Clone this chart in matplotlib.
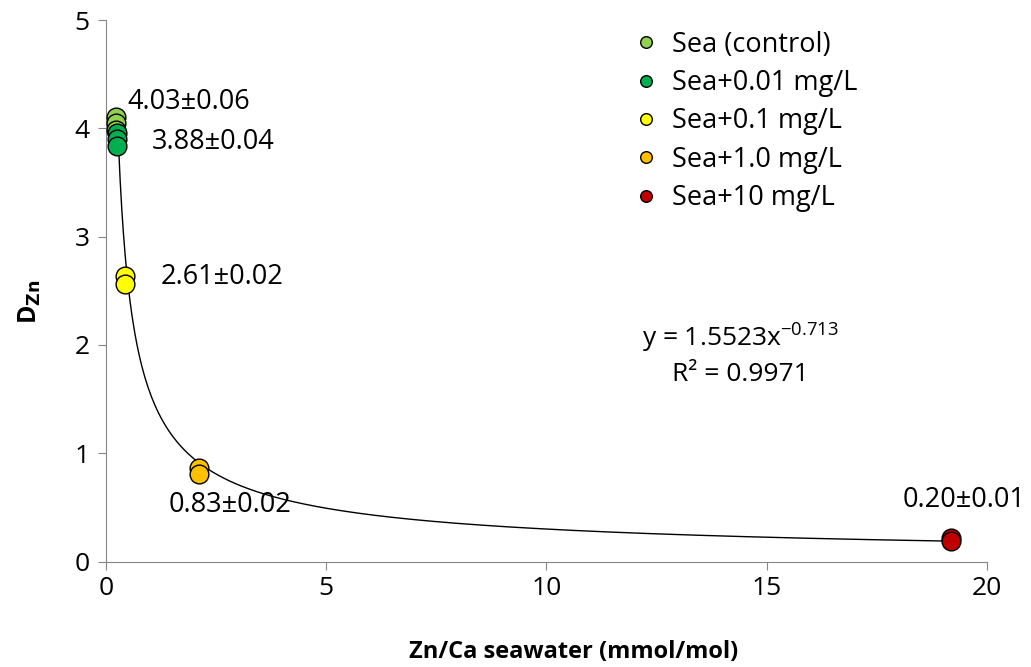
import numpy as np
import matplotlib
matplotlib.use("Agg")
import matplotlib.pyplot as plt

plt.rcParams['font.family'] = ['Open Sans', 'DejaVu Sans']

# data
labels = ["Sea (control)", "Sea+0.01 mg/L", "Sea+0.1 mg/L", "Sea+1.0 mg/L", "Sea+10 mg/L"]
colors = ["#92d050", "#00b050", "#ffff00", "#ffc000", "#c00000"]
xs = [[0.22, 0.22, 0.22], [0.25, 0.25, 0.25], [0.42, 0.42], [2.1, 2.1], [19.2, 19.2]]
ys = [[4.10, 4.05, 3.98], [3.96, 3.90, 3.84], [2.64, 2.56], [0.86, 0.81], [0.22, 0.19]]
ann_text = ["4.03±0.06", "3.88±0.04", "2.61±0.02", "0.83±0.02", "0.20±0.01"]
ann_x = [0.48, 1.04, 1.23, 1.41, 18.1]
ann_y = [4.24, 3.87, 2.63, 0.52, 0.57]
fit_a, fit_b = 1.5523, -0.713
fit_range = [0.28, 19.0]

fig = plt.figure(figsize=(10.31, 6.67), dpi=100)
ax = fig.add_axes([0.103, 0.158, 0.854, 0.812])

xx = np.linspace(fit_range[0], fit_range[1], 500)
ax.plot(xx, fit_a * xx ** fit_b, color='black', lw=1.0, zorder=2)

for lab, c, x, y in zip(labels, colors, xs, ys):
    ax.plot(x, y, 'o', ms=13.5, mfc=c, mec='black', mew=1.0, ls='none', label=lab, zorder=3)

for t, x, y in zip(ann_text, ann_x, ann_y):
    ax.text(x, y, t, fontsize=19.5, va='center', ha='left')

ax.text(14.4, 2.07, r"y = 1.5523x$^{\mathregular{-0.713}}$", fontsize=19, ha='center', va='center')
ax.text(14.4, 1.73, "R² = 0.9971", fontsize=19, ha='center', va='center')

ax.set_xlim(0, 20)
ax.set_ylim(0, 5)
ax.set_xticks([0, 5, 10, 15, 20])
ax.set_yticks([0, 1, 2, 3, 4, 5])
ax.tick_params(labelsize=19, direction='out', length=6, color='#868686')
ax.tick_params(axis='x', pad=4)
ax.tick_params(axis='y', pad=6)
for s in ['top', 'right']:
    ax.spines[s].set_visible(False)
for s in ['left', 'bottom']:
    ax.spines[s].set_color('#868686')
ax.set_xlabel("Zn/Ca seawater (mmol/mol)", fontsize=17, fontweight='bold')
ax.xaxis.set_label_coords(0.531, -0.145)
ax.set_ylabel(r"D$_{\mathbf{Zn}}$", fontsize=18, fontweight='bold')
ax.yaxis.set_label_coords(-0.072, 0.48)

leg = ax.legend(loc='upper left', bbox_to_anchor=(0.576, 1.015), frameon=False, fontsize=19.5,
                markerscale=0.62, handletextpad=0.45, labelspacing=0.38, handlelength=1.0,
                borderpad=0.2)

fig.savefig("out.png", dpi=100)
